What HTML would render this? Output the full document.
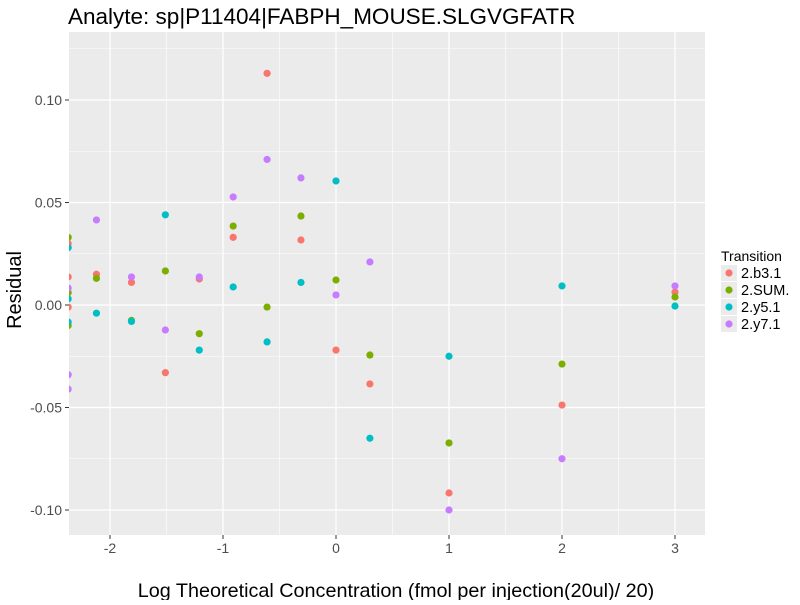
<!DOCTYPE html>
<html><head><meta charset="utf-8"><style>
body{margin:0;background:#fff;font-family:"Liberation Sans",sans-serif;}
svg text{font-family:"Liberation Sans",sans-serif;}
</style></head><body>
<svg id="c" width="800" height="600" xmlns="http://www.w3.org/2000/svg"></svg>
<script>
const xs = [-2.37,-2.37,-2.37,-2.12,-1.81,-1.51,-1.21,-0.91,-0.61,-0.31,0,0.3,1,2,3];
const seriesNames = ["2.b3.1","2.SUM.","2.y5.1","2.y7.1"];
const colors = ["#F8766D","#7CAE00","#00BFC4","#C77CFF"];
const b31 = [0.030,0.0137,-0.001,0.015,0.011,-0.033,0.0127,0.033,0.113,0.0317,-0.022,-0.0385,-0.0917,-0.0488,0.0063];
const sum = [0.033,0.006,-0.010,0.013,-0.0075,0.0166,-0.014,0.0385,-0.001,0.0434,0.0122,-0.0244,-0.0673,-0.0288,0.0039];
const y51 = [0.028,0.003,-0.0083,-0.004,-0.008,0.044,-0.022,0.0088,-0.018,0.011,0.0605,-0.065,-0.025,0.0093,-0.0005];
const y71 = [0.0083,-0.034,-0.041,0.0415,0.0137,-0.0122,0.0137,0.0527,0.071,0.062,0.0049,0.021,-0.1,-0.075,0.0093];
const series = [b31,sum,y51,y71];
const xTicks = [-2,-1,0,1,2,3];
const yTicks = [-0.10,-0.05,0,0.05,0.10];
const yLabels = ["-0.10","-0.05","0.00","0.05","0.10"];

const L=69,R=705,T=32,B=535;
const X=v=>336+v*113;
const Y=v=>305-v*2050;
const svg=document.getElementById('c');
const NS="http://www.w3.org/2000/svg";
function mk(t,a,p){const e=document.createElementNS(NS,t);for(const k in a)e.setAttribute(k,a[k]);(p||svg).appendChild(e);return e;}

const bg=mk('rect',{x:L,y:T,width:R-L,height:B-T,fill:'#EBEBEB'});


const defs=mk('defs',{});
const cp=mk('clipPath',{id:'cp'},defs);mk('rect',{x:L,y:T,width:R-L,height:B-T},cp);
for(let v=-2.5;v<=3.5;v+=1){const x=X(v);if(x>L&&x<R){const g=mk('line',{x1:x,x2:x,y1:T,y2:B,stroke:'#fff','stroke-width':0.6});}}
for(let v=-0.125;v<=0.13;v+=0.05){const y=Y(v);if(y>T&&y<B){const g=mk('line',{x1:L,x2:R,y1:y,y2:y,stroke:'#fff','stroke-width':0.6});}}
xTicks.forEach(v=>{const x=X(v);
const g=mk('line',{x1:x,x2:x,y1:T,y2:B,stroke:'#fff','stroke-width':1.2});
mk('line',{x1:x,x2:x,y1:B,y2:B+4,stroke:'#333'});
const t=mk('text',{x:x,y:B+18,'text-anchor':'middle','font-size':14,fill:'#4D4D4D'});t.textContent=v;
});
yTicks.forEach((v,i)=>{const y=Y(v);
const g=mk('line',{x1:L,x2:R,y1:y,y2:y,stroke:'#fff','stroke-width':1.2});
mk('line',{x1:L-4,x2:L,y1:y,y2:y,stroke:'#333'});
const t=mk('text',{x:L-7,y:y+5,'text-anchor':'end','font-size':14,fill:'#4D4D4D'});t.textContent=yLabels[i];
});
const pg=mk('g',{'clip-path':'url(#cp)'});
series.forEach((s,si)=>s.forEach((v,i)=>{const c=mk('circle',{cx:X(xs[i]),cy:Y(v),r:3.6,fill:colors[si]},pg);
}));
let t=mk('text',{x:68,y:24,'font-size':22.5,fill:'#000'});t.textContent='Analyte: sp|P11404|FABPH_MOUSE.SLGVGFATR';

t=mk('text',{x:396,y:597,'text-anchor':'middle','font-size':19.8,fill:'#000'});t.textContent='Log Theoretical Concentration (fmol per injection(20ul)/ 20)';

t=mk('text',{x:0,y:0,'text-anchor':'middle','font-size':20,fill:'#000',transform:'translate(21,290) rotate(-90)'});t.textContent='Residual';

t=mk('text',{x:721,y:261,'font-size':14,fill:'#000'});t.textContent='Transition';

seriesNames.forEach((n,i)=>{const cy=273+i*17;
const g=mk('g',{});
mk('rect',{x:721,y:cy-8,width:16,height:16,fill:'#EBEBEB'},g);
mk('circle',{cx:729,cy:cy,r:3.6,fill:colors[i]},g);
const tt=mk('text',{x:741,y:cy+5,'font-size':14.5,fill:'#000'},g);tt.textContent=n;});
</script>
</body></html>
